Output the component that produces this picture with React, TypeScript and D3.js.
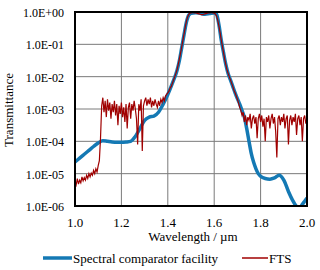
import * as d3 from "d3";

// x ticks and y ticks
const xTicks = [1.0, 1.2, 1.4, 1.6, 1.8, 2.0];
const yTicks = [1, 1e-1, 1e-2, 1e-3, 1e-4, 1e-5, 1e-6];
const yTickLabels = ["1.0E+00", "1.0E-01", "1.0E-02", "1.0E-03", "1.0E-04", "1.0E-05", "1.0E-06"];

// Spectral comparator facility: wavelength (µm) and log10(transmittance)
const scfWavelength = [
  1.0, 1.02, 1.04, 1.06, 1.08, 1.1, 1.12, 1.14, 1.16, 1.18, 1.2, 1.22, 1.24, 1.26, 1.28, 1.3,
  1.32, 1.34, 1.36, 1.38, 1.4, 1.42, 1.44, 1.45, 1.46, 1.47, 1.48, 1.49, 1.5, 1.52, 1.54, 1.56,
  1.58, 1.6, 1.61, 1.62, 1.63, 1.64, 1.65, 1.66, 1.67, 1.68, 1.69, 1.7, 1.71, 1.72, 1.73, 1.74,
  1.75, 1.76, 1.77, 1.78, 1.79, 1.8, 1.82, 1.84, 1.86, 1.88, 1.9, 1.92, 1.94, 1.95, 1.96, 1.97,
  1.98, 1.99, 2.0,
];
const scfLog = [
  -4.64, -4.52, -4.4, -4.28, -4.16, -4.05, -3.98, -4.0, -4.02, -4.03, -4.03, -4.02, -4.0, -3.85, -3.6, -3.35,
  -3.25, -3.22, -3.1, -2.85, -2.55, -2.2, -1.8, -1.5, -1.1, -0.7, -0.32, -0.1, -0.04, -0.02, -0.04, -0.07,
  -0.05, -0.03, -0.07, -0.38, -0.85, -1.25, -1.62, -1.9, -2.1, -2.3, -2.5, -2.68, -2.85, -3.05, -3.25, -3.6,
  -4.0, -4.38, -4.65, -4.85, -5.0, -5.08, -5.15, -5.17, -5.13, -5.05, -5.2, -5.55, -5.85, -5.97, -6.05, -6.05,
  -5.95, -5.85, -5.75,
];

// FTS: sampled every 0.005 µm from 1.000 to 2.000, log10(transmittance)
const ftsStart = 1.0;
const ftsStep = 0.005;
const ftsLog = [
  -5.25, -5.35, -5.15, -5.32, -5.2, -5.28, -5.1, -5.22, -5.12, -5.2,
  -5.05, -5.15, -5.0, -5.1, -4.98, -5.05, -4.9, -5.0, -4.85, -4.95,
  -4.75, -4.6, -3.9, -2.9, -2.65, -3.1, -2.75, -3.25, -2.7, -3.05,
  -2.8, -3.3, -2.85, -3.1, -2.75, -3.2, -2.85, -3.5, -2.9, -3.15,
  -2.8, -3.25, -2.95, -3.4, -2.85, -3.6, -2.95, -2.8, -3.3, -2.85,
  -3.05, -2.75, -3.0, -3.3, -4.1, -2.85, -3.05, -2.7, -4.3, -2.9,
  -2.75, -2.65, -2.9, -2.7, -2.85, -2.65, -2.95, -2.75, -2.9, -2.7,
  -2.85, -2.95, -2.75, -2.9, -2.7, -2.8, -2.65, -2.75, -2.6, -2.55,
  -2.5, -2.45, -2.35, -2.3, -2.2, -2.1, -2.0, -1.9, -1.78, -1.62,
  -1.45, -1.27, -1.08, -0.88, -0.68, -0.48, -0.3, -0.16, -0.08, -0.04,
  -0.03, -0.02, -0.02, -0.03, -0.03, -0.04, -0.05, -0.06, -0.07, -0.08,
  -0.08, -0.07, -0.06, -0.05, -0.04, -0.03, -0.03, -0.02, -0.02, -0.03,
  -0.04, -0.06, -0.12, -0.25, -0.42, -0.62, -0.85, -1.05, -1.25, -1.45,
  -1.62, -1.78, -1.9, -2.0, -2.1, -2.2, -2.3, -2.42, -2.5, -2.6,
  -2.7, -2.82, -2.95, -3.05, -3.2, -3.1, -3.4, -3.2, -3.5, -3.25,
  -3.35, -3.15, -3.6, -3.3, -3.2, -3.45, -3.25, -3.9, -3.3, -3.15,
  -3.4, -3.2, -3.55, -3.3, -4.0, -3.25, -3.4, -3.2, -3.6, -3.3,
  -3.15, -3.45, -3.25, -3.7, -4.5, -3.3, -3.2, -3.5, -3.25, -3.4,
  -3.15, -3.6, -3.3, -3.2, -4.1, -3.35, -3.2, -3.5, -3.25, -3.4,
  -3.15, -3.8, -3.3, -3.2, -3.5, -3.25, -4.0, -3.3, -3.2, -3.45,
  -3.3,
];

const W = 320;
const H = 270;
const margin = { top: 12, right: 13, bottom: 64, left: 75 };
const font = "'Liberation Serif', 'DejaVu Serif', serif";
const blue = "#1479b4";
const red = "#a00000";

const App = () => {
  const iw = W - margin.left - margin.right;
  const ih = H - margin.top - margin.bottom;

  const x = d3.scaleLinear().domain([1, 2]).range([0, iw]);
  const y = d3.scaleLog().domain([1e-6, 1]).range([ih, 0]);

  const scf = scfWavelength.map((w, i) => [w, Math.pow(10, scfLog[i])] as [number, number]);
  const fts = ftsLog.map((v, i) => [ftsStart + i * ftsStep, Math.pow(10, v)] as [number, number]);

  const scfLine = d3
    .line<[number, number]>()
    .x((d) => x(d[0]))
    .y((d) => y(d[1]))
    .curve(d3.curveMonotoneX);
  const ftsLine = d3
    .line<[number, number]>()
    .x((d) => x(d[0]))
    .y((d) => y(d[1]));

  const txt = { fontFamily: font, fontSize: "13px", fill: "#000" };
  const tickTxt = { ...txt, fontSize: "12px" };

  return (
    <svg width={W} height={H} style={{ position: "absolute", left: 0, top: 0, background: "#fff" }}>
      <defs>
        <clipPath id="plot">
          <rect x={0} y={0} width={iw} height={ih} />
        </clipPath>
      </defs>
      <g transform={`translate(${margin.left},${margin.top})`}>
        {/* grid */}
        {xTicks.slice(1, -1).map((t) => (
          <line key={"gx" + t} x1={x(t)} x2={x(t)} y1={0} y2={ih} stroke="#7a7a7a" strokeWidth={1} />
        ))}
        {yTicks.slice(1, -1).map((t) => (
          <line key={"gy" + t} x1={0} x2={iw} y1={y(t)} y2={y(t)} stroke="#7a7a7a" strokeWidth={1} />
        ))}
        <g clipPath="url(#plot)">
          <path d={scfLine(scf) ?? ""} fill="none" stroke={blue} strokeWidth={3.5} strokeLinejoin="round" />
          <path d={ftsLine(fts) ?? ""} fill="none" stroke={red} strokeWidth={1.2} />
        </g>
        <rect x={0} y={0} width={iw} height={ih} fill="none" stroke="#000" strokeWidth={2} />
        {/* y tick labels */}
        {yTicks.map((t, i) => (
          <text key={"yl" + t} x={-11} y={y(t) + 5} textAnchor="end" style={tickTxt}>
            {yTickLabels[i]}
          </text>
        ))}
        {/* x tick labels */}
        {xTicks.map((t) => (
          <text key={"xl" + t} x={x(t)} y={ih + 21} textAnchor="middle" style={txt}>
            {t.toFixed(1)}
          </text>
        ))}
        <text x={iw / 2 + 2} y={ih + 35} textAnchor="middle" style={txt}>
          Wavelength / µm
        </text>
        <text transform={`translate(${-62},${ih / 2 + 1}) rotate(-90)`} textAnchor="middle" style={txt}>
          Transmittance
        </text>
      </g>
      {/* legend */}
      <line x1={43} x2={72} y1={258} y2={258} stroke={blue} strokeWidth={3.5} />
      <text x={73} y={263} style={txt}>
        Spectral comparator facility
      </text>
      <line x1={242} x2={268} y1={258} y2={258} stroke={red} strokeWidth={1.5} />
      <text x={269} y={263} style={txt}>
        FTS
      </text>
    </svg>
  );
};

export default App;
